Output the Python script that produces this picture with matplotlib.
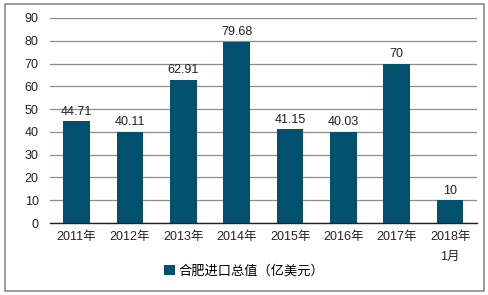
import matplotlib.pyplot as plt
from matplotlib.patches import Rectangle

plt.rcParams["font.family"] = ["Liberation Sans", "Noto Sans CJK SC", "DejaVu Sans"]

categories = ["2011年", "2012年", "2013年", "2014年", "2015年", "2016年", "2017年", "2018年\n1月"]
values = [44.71, 40.11, 62.91, 79.68, 41.15, 40.03, 70, 10]
value_labels = ["44.71", "40.11", "62.91", "79.68", "41.15", "40.03", "70", "10"]
series_name = "合肥进口总值（亿美元）"

bar_color = "#00506e"

fig = plt.figure(figsize=(4.89, 2.95), dpi=100)
ax = fig.add_axes([0.102, 0.244, 0.873, 0.695])

x = range(len(categories))
bars = ax.bar(x, values, width=0.5, color=bar_color, label=series_name, zorder=3)
for xi, v, lab in zip(x, values, value_labels):
    ax.text(xi, v + 1.5, lab, ha="center", va="bottom", fontsize=9, color="#222222")

ax.set_xlim(-0.5, len(categories) - 0.5)
ax.set_ylim(0, 90)
ax.set_yticks(range(0, 91, 10))
ax.set_xticks(list(x))
ax.set_xticklabels(categories, fontsize=9, color="#222222", linespacing=1.8)
ax.tick_params(axis="y", labelsize=9, colors="#222222", length=0, pad=8)
ax.tick_params(axis="x", length=0, pad=6)
ax.grid(axis="y", color="#8c8c8c", linewidth=0.9, zorder=0)
for s in ["top", "right", "left"]:
    ax.spines[s].set_visible(False)
ax.spines["bottom"].set_color("#222222")
ax.spines["bottom"].set_linewidth(1.0)
ax.spines["bottom"].set_zorder(4)

fig.legend(handles=[bars], labels=[series_name], loc="center", bbox_to_anchor=(0.5, 0.08),
           frameon=False, fontsize=9.5, handlelength=0.8, handleheight=0.8, handletextpad=0.3)

fig.patches.append(Rectangle((5 / 489, 4 / 295), 479 / 489, 287 / 295, transform=fig.transFigure,
                             fill=False, edgecolor="#8c8c8c", linewidth=1.2))

fig.savefig("out.png", dpi=100)
